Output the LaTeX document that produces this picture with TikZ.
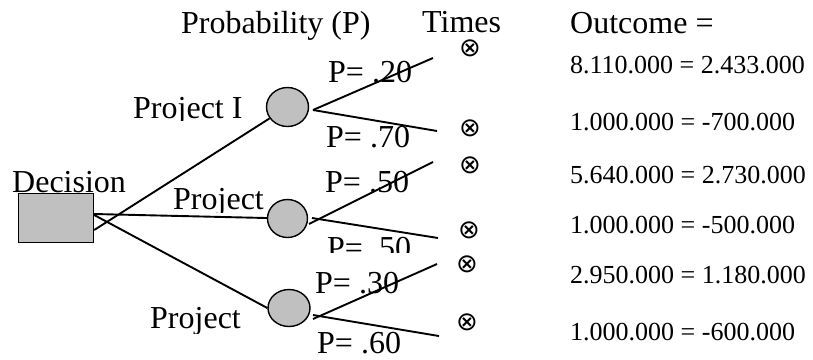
\documentclass[tikz,border=0pt]{standalone}
\usepackage{fontspec}
\setmainfont{Liberation Serif}
\newfontfamily\symfont{DejaVu Sans}
\usetikzlibrary{shapes.geometric}
\definecolor{boxgray}{RGB}{192,192,192}
\begin{document}
\begin{tikzpicture}[x=1pt,y=-1pt,
  big/.style={anchor=base west,inner sep=0pt,font=\fontsize{32}{38}\selectfont},
  val/.style={anchor=base west,inner sep=0pt,font=\fontsize{26}{30}\selectfont},
  mult/.style={inner sep=0pt,font=\symfont\fontsize{26}{30}\selectfont},
  chance/.style={ellipse,draw,fill=boxgray,line width=1.4pt,inner sep=0pt},
  link/.style={line width=1.9pt}]
\useasboundingbox (0,0) rectangle (813,359);

% headers
\node[big] (hprob) at (181,33) {Probability (P)};
\node[big] (htimes) at (422,32) {Times};
\node[big] (hout) at (570,33) {Outcome =};

% decision and chance nodes
\node[big] (tdec) at (12,192) {Decision};
\node[draw,fill=boxgray,line width=1.4pt,minimum width=75pt,minimum height=49pt,inner sep=0pt] (dec) at (56,218) {};
\node[chance,minimum width=42pt,minimum height=39pt] (c1) at (287.5,107) {};
\node[chance,minimum width=40pt,minimum height=38pt] (c2) at (287.5,218.5) {};
\node[chance,minimum width=42pt,minimum height=37pt] (c3) at (289,308) {};

% project labels (clipped like the original text boxes)
\begin{scope}
\clip (100,70) rectangle (262,120);
\node[big] (p1) at (133,118) {Project I};
\end{scope}
\begin{scope}
\clip (150,170) rectangle (270,212);
\node[big] (p2) at (173,209) {Project};
\end{scope}
\begin{scope}
\clip (130,290) rectangle (260,333);
\node[big] (p3) at (150,328) {Project};
\end{scope}

% probability labels
\node[big] (pa) at (328,82) {P= .20};
\node[big] (pb) at (326,147) {P= .70};
\node[big] (pc) at (325,192) {P= .50};
\begin{scope}
\clip (310,225) rectangle (430,252);
\node[big] (pd) at (327,258) {P= .50};
\end{scope}
\node[big] (pe) at (315,293) {P= .30};
\node[big] (pf) at (317,353) {P= .60};

% connectors from decision
\draw[link] ([yshift=-12pt]dec.east) -- (c1);
\draw[link] ([yshift=4pt]dec.east) -- (c2);
\draw[link] ([yshift=3pt]dec.east) -- (c3.west);

% branch coordinates
\coordinate (s1) at (313,110);
\coordinate (s2a) at (309,224);
\coordinate (s2b) at (312,218);
\coordinate (s3a) at (313,319);
\coordinate (s3b) at (313,315);
\coordinate (e1) at (433,58);
\coordinate (e2) at (437,131);
\coordinate (e3) at (433,162);
\coordinate (e4) at (438,238);
\coordinate (e5) at (437,264);
\coordinate (e6) at (439,336);
\draw[link] (s1) -- (e1);
\draw[link] (s1) -- (e2);
\draw[link] (s2a) -- (e3);
\draw[link] (s2b) -- (e4);
\draw[link] (s3a) -- (e5);
\draw[link] (s3b) -- (e6);

% times symbols
\node[mult] (m1) at (470,48) {⊗};
\node[mult] (m2) at (470,128) {⊗};
\node[mult] (m3) at (470,165) {⊗};
\node[mult] (m4) at (469,230) {⊗};
\node[mult] (m5) at (467,264) {⊗};
\node[mult] (m6) at (467,322) {⊗};

% outcomes
\node[val] (o1) at (570,73) {8.110.000 = 2.433.000};
\node[val] (o2) at (570,130) {1.000.000 = -700.000};
\node[val] (o3) at (570,183) {5.640.000 = 2.730.000};
\node[val] (o4) at (570,233) {1.000.000 = -500.000};
\node[val] (o5) at (570,283) {2.950.000 = 1.180.000};
\node[val] (o6) at (570,340) {1.000.000 = -600.000};
\end{tikzpicture}
\end{document}
